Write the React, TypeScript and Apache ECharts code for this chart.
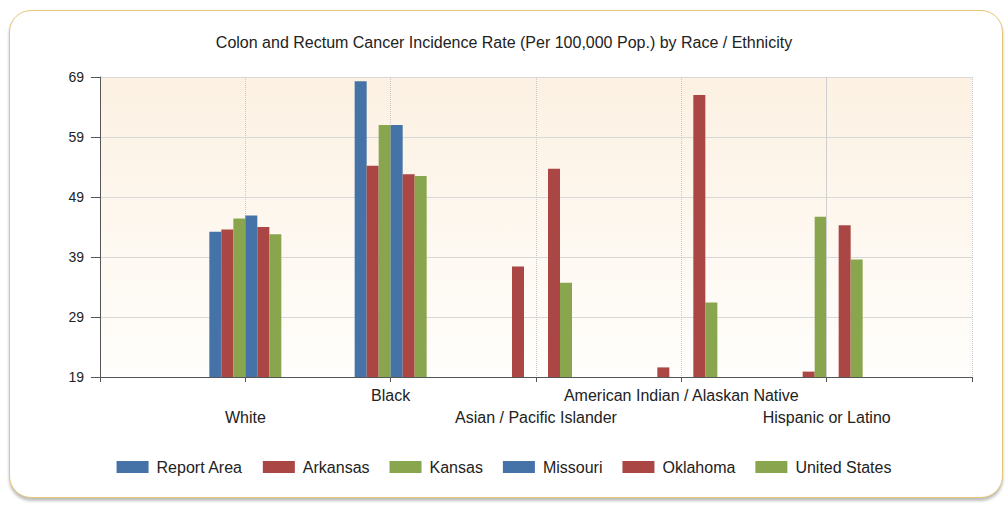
import React, { useEffect, useRef } from "react";
import * as echarts from "echarts";

const categories = [
  "White",
  "Black",
  "Asian / Pacific Islander",
  "American Indian / Alaskan Native",
  "Hispanic or Latino",
];
const seriesNames = ["Report Area", "Arkansas", "Kansas", "Missouri", "Oklahoma", "United States"];
const reportArea = [43.2, 68.3, null, null, null];
const arkansas = [43.6, 54.2, 37.4, 20.6, 19.9];
const kansas = [45.4, 61.0, null, null, 45.7];
const missouri = [45.9, 61.0, null, null, null];
const oklahoma = [44.0, 52.8, 53.7, 66.0, 44.3];
const unitedStates = [42.8, 52.5, 34.7, 31.4, 38.6];
const colors = ["#4572A7", "#AA4643", "#89A54E", "#4572A7", "#AA4643", "#89A54E"];
const yMin = 19;
const yMax = 69;
const yStep = 10;
const title = "Colon and Rectum Cancer Incidence Rate (Per 100,000 Pop.) by Race / Ethnicity";

const FONT = "'Liberation Sans', Arial, sans-serif";

export default function App() {
  const ref = useRef<HTMLDivElement>(null);
  useEffect(() => {
    if (!ref.current) return;
    const chart = echarts.init(ref.current, null, { renderer: "svg" });
    const axisCats = ["", ...categories, ""];
    const pad = (a: (number | null)[]) => [null, ...a, null];
    const values = [reportArea, arkansas, kansas, missouri, oklahoma, unitedStates];
    const series: any[] = values.map((v, i) => ({
      name: seriesNames[i],
      type: "bar",
      data: pad(v),
      barWidth: 12,
      barGap: "0%",
      itemStyle: { color: colors[i] },
    }));
    series.push({
      name: "_guide",
      type: "line",
      data: [],
      silent: true,
      markLine: {
        silent: true,
        symbol: "none",
        label: { show: false },
        lineStyle: { color: "#cfcfcf", type: "solid", width: 1 },
        data: [{ xAxis: categories[4] }],
      },
    });
    chart.setOption({
      animation: false,
      color: colors,
      textStyle: { fontFamily: FONT },
      title: {
        text: title,
        left: "center",
        top: 29,
        textStyle: { fontSize: 16, fontWeight: "normal", color: "#222", fontFamily: FONT },
      },
      grid: {
        left: 100,
        top: 77,
        width: 872,
        height: 300,
        show: true,
        borderWidth: 0,
        backgroundColor: new echarts.graphic.LinearGradient(0, 0, 0, 1, [
          { offset: 0, color: "#fcf1e2" },
          { offset: 1, color: "#fffefc" },
        ]),
      },
      legend: {
        data: seriesNames,
        left: "center",
        top: 454,
        icon: "rect",
        itemWidth: 32,
        itemHeight: 12,
        itemGap: 20,
        textStyle: { fontSize: 16, color: "#222", fontFamily: FONT, padding: [0, 0, 0, 3] },
      },
      xAxis: {
        type: "category",
        data: axisCats,
        boundaryGap: false,
        axisLine: { lineStyle: { color: "#555", width: 1 } },
        axisTick: { show: true, length: 5, interval: 0, lineStyle: { color: "#555" } },
        axisLabel: {
          interval: 0,
          margin: 7,
          lineHeight: 22,
          fontSize: 16,
          color: "#222",
          fontFamily: FONT,
          formatter: (v: string, idx: number) => (idx % 2 === 1 ? "\n" + v : v),
        },
        splitLine: { show: true, interval: 0, lineStyle: { color: "#c8c8c8", type: "dotted", width: 1 } },
      },
      yAxis: {
        type: "value",
        min: yMin,
        max: yMax,
        interval: yStep,
        axisLine: { show: true, lineStyle: { color: "#555", width: 1 } },
        axisTick: { show: true, length: 9, lineStyle: { color: "#555" } },
        axisLabel: { margin: 16, fontSize: 14, color: "#222", fontFamily: FONT },
        splitLine: { show: true, lineStyle: { color: "#d8d8d8", width: 1 } },
      },
      series,
    });
    return () => chart.dispose();
  }, []);
  return (
    <div style={{ position: "absolute", left: 0, top: 0, width: 1008, height: 506, background: "#fff" }}>
      <div
        style={{
          position: "absolute",
          left: 9,
          top: 10,
          width: 992,
          height: 486,
          border: "1.5px solid #e6c577",
          borderRadius: 22,
          background: "#fff",
          boxShadow: "0 3px 3px rgba(0,0,0,0.25)",
        }}
      />
      <div ref={ref} style={{ position: "absolute", left: 0, top: 0, width: 1008, height: 506 }} />
    </div>
  );
}
